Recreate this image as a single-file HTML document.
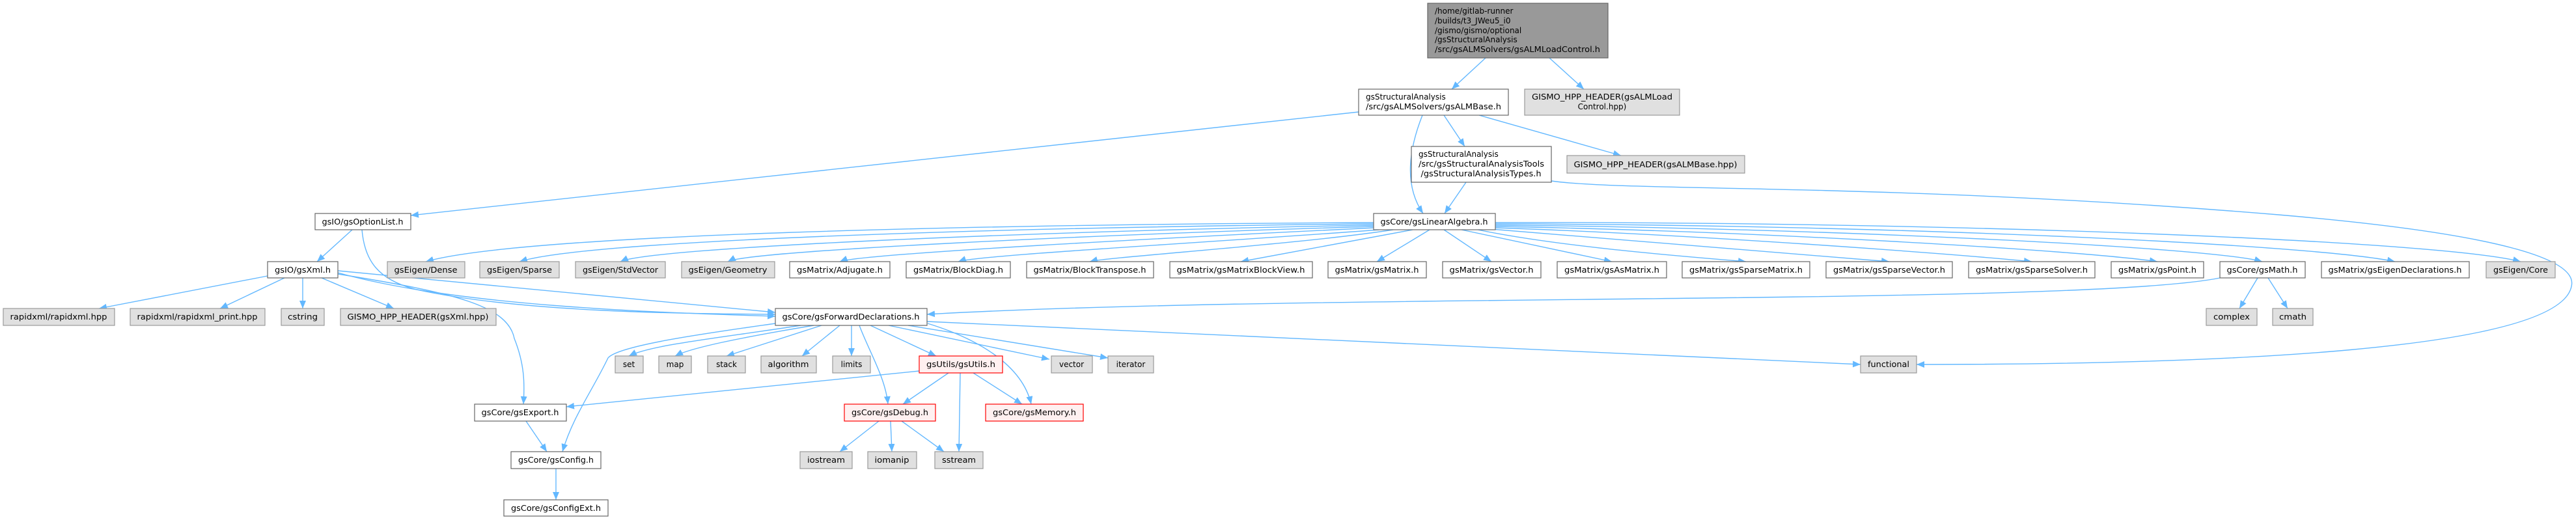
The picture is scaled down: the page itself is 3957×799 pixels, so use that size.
<!DOCTYPE html>
<html><head><meta charset="utf-8"><style>
html,body{margin:0;padding:0;background:#fff;}
svg{display:block;}
text{font-family:"DejaVu Sans","Liberation Sans",sans-serif;font-size:12px;fill:#000;}
.e{fill:none;stroke:#63b8ff;stroke-width:1.4;marker-end:url(#a);}
.n{fill:#fff;stroke:#666;stroke-width:1.2;}
.g{fill:#e0e0e0;stroke:#999;stroke-width:1.2;}
.r{fill:#fff0f0;stroke:#f00;stroke-width:1.2;}
.root{fill:#999;stroke:#666;stroke-width:1.2;}
</style></head><body>
<svg width="3957" height="799" viewBox="0 0 3957 799" xmlns="http://www.w3.org/2000/svg">
<defs><marker id="a" markerUnits="userSpaceOnUse" markerWidth="14" markerHeight="12" refX="12" refY="5" orient="auto"><path d="M0,0 L12,5 L0,10 Z" fill="#63b8ff"/></marker></defs>

<!-- edges -->
<path class="e" d="M2282,89 L2230,137"/>
<path class="e" d="M2380,89 L2433,137"/>
<path class="e" d="M2087,172 L631,331"/>
<path class="e" d="M2185,177 C2160,240 2160,290 2186,328"/>
<path class="e" d="M2218,177 L2250,225"/>
<path class="e" d="M2272,177 L2490,239"/>
<path class="e" d="M2252,280 L2219,328"/>
<path class="e" d="M2383,278 C2500,295 2900,280 3500,330 C3850,360 3960,400 3950,440 C3930,540 3400,560 2944,560"/>
<path class="e" d="M541,353 L487,402"/>
<path class="e" d="M556,353 C560,400 580,430 640,445 C800,480 1050,482 1191,483"/>
<path class="e" d="M411,424 L152,474"/>
<path class="e" d="M437,427 L338,474"/>
<path class="e" d="M465,427 L465,474"/>
<path class="e" d="M494,427 L605,474"/>
<path class="e" d="M519,416 L1191,480"/>
<path class="e" d="M519,419 C700,470 1000,480 1191,486"/>
<path class="e" d="M519,421 C700,450 780,470 790,520 C806,560 806,590 804,621"/>
<!-- ForwardDecl -->
<path class="e" d="M1230,500 C1100,520 1000,530 966,547"/>
<path class="e" d="M1250,500 C1130,520 1060,535 1037,547"/>
<path class="e" d="M1262,500 L1116,547"/>
<path class="e" d="M1290,500 L1232,547"/>
<path class="e" d="M1308,500 L1308,547"/>
<path class="e" d="M1337,500 L1438,547"/>
<path class="e" d="M1365,500 L1612,552"/>
<path class="e" d="M1395,500 L1702,550"/>
<path class="e" d="M1424,494 L2858,560"/>
<path class="e" d="M1320,500 C1335,540 1360,580 1364,621"/>
<path class="e" d="M1425,497 C1500,520 1570,560 1584,621"/>
<path class="e" d="M1191,497 C1100,510 950,530 934,550 C910,600 880,640 864,694"/>
<path class="e" d="M1412,570 L870,625"/>
<path class="e" d="M1457,573 L1387,621"/>
<path class="e" d="M1495,573 L1570,621"/>
<path class="e" d="M1475,573 L1473,694"/>
<path class="e" d="M1350,647 L1290,694"/>
<path class="e" d="M1368,647 L1370,694"/>
<path class="e" d="M1385,647 L1450,694"/>
<path class="e" d="M808,647 L840,694"/>
<path class="e" d="M854,720 L854,768"/>
<path class="e" d="M3410,427 C3200,470 2000,450 1424,483"/>
<path class="e" d="M3468,427 L3440,474"/>
<path class="e" d="M3484,427 L3514,474"/>
<!-- LinearAlgebra fan -->
<path class="e" d="M2110,342 C1500,345 800,360 654,402"/>
<path class="e" d="M2110,344 C1500,350 900,370 798,402"/>
<path class="e" d="M2110,346 C1600,355 1000,380 953,402"/>
<path class="e" d="M2110,348 C1700,360 1150,385 1118,402"/>
<path class="e" d="M2112,350 C1800,365 1320,390 1290,402"/>
<path class="e" d="M2118,353 C1900,370 1500,392 1472,402"/>
<path class="e" d="M2140,353 C2000,375 1700,395 1674,402"/>
<path class="e" d="M2170,353 L1906,402"/>
<path class="e" d="M2196,353 L2115,402"/>
<path class="e" d="M2218,353 L2291,402"/>
<path class="e" d="M2245,353 L2476,402"/>
<path class="e" d="M2270,353 C2400,380 2600,395 2682,402"/>
<path class="e" d="M2290,352 C2500,370 2800,392 2902,402"/>
<path class="e" d="M2297,350 C2600,360 3000,390 3121,402"/>
<path class="e" d="M2297,348 C2700,355 3200,385 3314,402"/>
<path class="e" d="M2297,346 C2800,350 3400,380 3475,402"/>
<path class="e" d="M2297,344 C2900,345 3550,375 3679,402"/>
<path class="e" d="M2297,342 C3000,340 3750,370 3872,402"/>

<!-- nodes -->
<rect class="root" x="2193" y="5" width="277" height="84"/>
<text x="2204" y="21">/home/gitlab-runner</text>
<text x="2204" y="36">/builds/t3_JWeu5_i0</text>
<text x="2204" y="51">/gismo/gismo/optional</text>
<text x="2204" y="65">/gsStructuralAnalysis</text>
<text x="2204" y="80" textLength="254" lengthAdjust="spacingAndGlyphs">/src/gsALMSolvers/gsALMLoadControl.h</text>

<rect class="n" x="2087" y="137" width="230" height="40"/>
<text x="2098" y="153">gsStructuralAnalysis</text>
<text x="2098" y="168" textLength="208" lengthAdjust="spacingAndGlyphs">/src/gsALMSolvers/gsALMBase.h</text>

<rect class="g" x="2342" y="137" width="238" height="40"/>
<text x="2461" y="153" text-anchor="middle" textLength="216" lengthAdjust="spacingAndGlyphs">GISMO_HPP_HEADER(gsALMLoad</text>
<text x="2461" y="168" text-anchor="middle">Control.hpp)</text>

<rect class="n" x="2168" y="225" width="215" height="55"/>
<text x="2179" y="241">gsStructuralAnalysis</text>
<text x="2179" y="256" textLength="193" lengthAdjust="spacingAndGlyphs">/src/gsStructuralAnalysisTools</text>
<text x="2275" y="271" text-anchor="middle" textLength="185" lengthAdjust="spacingAndGlyphs">/gsStructuralAnalysisTypes.h</text>

<rect class="g" x="2407" y="239" width="273" height="27"/>
<text x="2543" y="257" text-anchor="middle" textLength="251" lengthAdjust="spacingAndGlyphs">GISMO_HPP_HEADER(gsALMBase.hpp)</text>

<rect class="n" x="484" y="328" width="147" height="25"/>
<text x="557" y="345" text-anchor="middle" textLength="125" lengthAdjust="spacingAndGlyphs">gsIO/gsOptionList.h</text>
<rect class="n" x="2110" y="328" width="187" height="25"/>
<text x="2203" y="345" text-anchor="middle" textLength="165" lengthAdjust="spacingAndGlyphs">gsCore/gsLinearAlgebra.h</text>

<!-- row3 y402 -->
<g>
<rect class="n" x="411" y="402" width="108" height="25"/><text x="465" y="419" text-anchor="middle" textLength="86" lengthAdjust="spacingAndGlyphs">gsIO/gsXml.h</text>
<rect class="g" x="595" y="402" width="119" height="25"/><text x="654" y="419" text-anchor="middle" textLength="97" lengthAdjust="spacingAndGlyphs">gsEigen/Dense</text>
<rect class="g" x="737" y="402" width="122" height="25"/><text x="798" y="419" text-anchor="middle" textLength="100" lengthAdjust="spacingAndGlyphs">gsEigen/Sparse</text>
<rect class="g" x="884" y="402" width="138" height="25"/><text x="953" y="419" text-anchor="middle" textLength="116" lengthAdjust="spacingAndGlyphs">gsEigen/StdVector</text>
<rect class="g" x="1047" y="402" width="143" height="25"/><text x="1118" y="419" text-anchor="middle" textLength="121" lengthAdjust="spacingAndGlyphs">gsEigen/Geometry</text>
<rect class="n" x="1213" y="402" width="154" height="25"/><text x="1290" y="419" text-anchor="middle" textLength="132" lengthAdjust="spacingAndGlyphs">gsMatrix/Adjugate.h</text>
<rect class="n" x="1392" y="402" width="160" height="25"/><text x="1472" y="419" text-anchor="middle" textLength="138" lengthAdjust="spacingAndGlyphs">gsMatrix/BlockDiag.h</text>
<rect class="n" x="1577" y="402" width="195" height="25"/><text x="1674" y="419" text-anchor="middle" textLength="173" lengthAdjust="spacingAndGlyphs">gsMatrix/BlockTranspose.h</text>
<rect class="n" x="1797" y="402" width="219" height="25"/><text x="1906" y="419" text-anchor="middle" textLength="197" lengthAdjust="spacingAndGlyphs">gsMatrix/gsMatrixBlockView.h</text>
<rect class="n" x="2040" y="402" width="151" height="25"/><text x="2115" y="419" text-anchor="middle" textLength="129" lengthAdjust="spacingAndGlyphs">gsMatrix/gsMatrix.h</text>
<rect class="n" x="2216" y="402" width="151" height="25"/><text x="2291" y="419" text-anchor="middle" textLength="129" lengthAdjust="spacingAndGlyphs">gsMatrix/gsVector.h</text>
<rect class="n" x="2392" y="402" width="168" height="25"/><text x="2476" y="419" text-anchor="middle" textLength="146" lengthAdjust="spacingAndGlyphs">gsMatrix/gsAsMatrix.h</text>
<rect class="n" x="2584" y="402" width="196" height="25"/><text x="2682" y="419" text-anchor="middle" textLength="174" lengthAdjust="spacingAndGlyphs">gsMatrix/gsSparseMatrix.h</text>
<rect class="n" x="2805" y="402" width="194" height="25"/><text x="2902" y="419" text-anchor="middle" textLength="172" lengthAdjust="spacingAndGlyphs">gsMatrix/gsSparseVector.h</text>
<rect class="n" x="3024" y="402" width="194" height="25"/><text x="3121" y="419" text-anchor="middle" textLength="172" lengthAdjust="spacingAndGlyphs">gsMatrix/gsSparseSolver.h</text>
<rect class="n" x="3243" y="402" width="142" height="25"/><text x="3314" y="419" text-anchor="middle" textLength="120" lengthAdjust="spacingAndGlyphs">gsMatrix/gsPoint.h</text>
<rect class="n" x="3410" y="402" width="131" height="25"/><text x="3475" y="419" text-anchor="middle" textLength="109" lengthAdjust="spacingAndGlyphs">gsCore/gsMath.h</text>
<rect class="n" x="3566" y="402" width="227" height="25"/><text x="3679" y="419" text-anchor="middle" textLength="205" lengthAdjust="spacingAndGlyphs">gsMatrix/gsEigenDeclarations.h</text>
<rect class="g" x="3819" y="402" width="106" height="25"/><text x="3872" y="419" text-anchor="middle" textLength="84" lengthAdjust="spacingAndGlyphs">gsEigen/Core</text>
</g>

<!-- row4 y474 -->
<rect class="g" x="5" y="474" width="171" height="26"/><text x="90" y="491" text-anchor="middle" textLength="149" lengthAdjust="spacingAndGlyphs">rapidxml/rapidxml.hpp</text>
<rect class="g" x="200" y="474" width="207" height="26"/><text x="303" y="491" text-anchor="middle" textLength="185" lengthAdjust="spacingAndGlyphs">rapidxml/rapidxml_print.hpp</text>
<rect class="g" x="432" y="474" width="66" height="26"/><text x="465" y="491" text-anchor="middle" textLength="46" lengthAdjust="spacingAndGlyphs">cstring</text>
<rect class="g" x="523" y="474" width="239" height="26"/><text x="642" y="491" text-anchor="middle" textLength="217" lengthAdjust="spacingAndGlyphs">GISMO_HPP_HEADER(gsXml.hpp)</text>
<rect class="n" x="1191" y="474" width="233" height="26"/><text x="1307" y="491" text-anchor="middle" textLength="211" lengthAdjust="spacingAndGlyphs">gsCore/gsForwardDeclarations.h</text>
<rect class="g" x="3389" y="474" width="78" height="26"/><text x="3428" y="491" text-anchor="middle" textLength="56" lengthAdjust="spacingAndGlyphs">complex</text>
<rect class="g" x="3491" y="474" width="62" height="26"/><text x="3522" y="491" text-anchor="middle" textLength="42" lengthAdjust="spacingAndGlyphs">cmath</text>

<!-- row5 y547 -->
<rect class="g" x="945" y="547" width="43" height="26"/><text x="966" y="564" text-anchor="middle">set</text>
<rect class="g" x="1012" y="547" width="50" height="26"/><text x="1037" y="564" text-anchor="middle">map</text>
<rect class="g" x="1087" y="547" width="58" height="26"/><text x="1116" y="564" text-anchor="middle">stack</text>
<rect class="g" x="1169" y="547" width="85" height="26"/><text x="1211" y="564" text-anchor="middle" textLength="63" lengthAdjust="spacingAndGlyphs">algorithm</text>
<rect class="g" x="1279" y="547" width="58" height="26"/><text x="1308" y="564" text-anchor="middle">limits</text>
<rect class="r" x="1412" y="547" width="128" height="26"/><text x="1476" y="564" text-anchor="middle" textLength="106" lengthAdjust="spacingAndGlyphs">gsUtils/gsUtils.h</text>
<rect class="g" x="1615" y="547" width="63" height="26"/><text x="1646" y="564" text-anchor="middle">vector</text>
<rect class="g" x="1702" y="547" width="70" height="26"/><text x="1737" y="564" text-anchor="middle">iterator</text>
<rect class="g" x="2858" y="547" width="86" height="26"/><text x="2901" y="564" text-anchor="middle" textLength="64" lengthAdjust="spacingAndGlyphs">functional</text>

<!-- row6 y621 -->
<rect class="n" x="729" y="621" width="141" height="26"/><text x="799" y="638" text-anchor="middle" textLength="119" lengthAdjust="spacingAndGlyphs">gsCore/gsExport.h</text>
<rect class="r" x="1297" y="621" width="140" height="26"/><text x="1367" y="638" text-anchor="middle" textLength="118" lengthAdjust="spacingAndGlyphs">gsCore/gsDebug.h</text>
<rect class="r" x="1514" y="621" width="150" height="26"/><text x="1589" y="638" text-anchor="middle" textLength="128" lengthAdjust="spacingAndGlyphs">gsCore/gsMemory.h</text>

<!-- row7 y694 -->
<rect class="n" x="785" y="694" width="138" height="26"/><text x="854" y="711" text-anchor="middle" textLength="116" lengthAdjust="spacingAndGlyphs">gsCore/gsConfig.h</text>
<rect class="g" x="1229" y="694" width="80" height="26"/><text x="1269" y="711" text-anchor="middle" textLength="58" lengthAdjust="spacingAndGlyphs">iostream</text>
<rect class="g" x="1333" y="694" width="75" height="26"/><text x="1370" y="711" text-anchor="middle" textLength="53" lengthAdjust="spacingAndGlyphs">iomanip</text>
<rect class="g" x="1436" y="694" width="74" height="26"/><text x="1473" y="711" text-anchor="middle" textLength="52" lengthAdjust="spacingAndGlyphs">sstream</text>

<rect class="n" x="774" y="768" width="160" height="25"/><text x="854" y="785" text-anchor="middle" textLength="138" lengthAdjust="spacingAndGlyphs">gsCore/gsConfigExt.h</text>
</svg>
</body></html>
